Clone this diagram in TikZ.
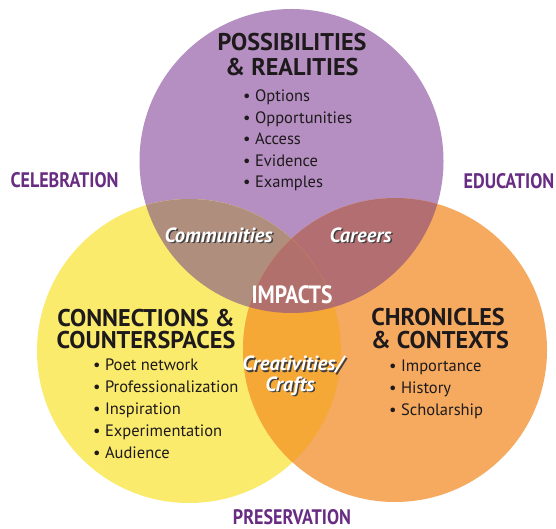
\documentclass[tikz,border=0pt]{standalone}
\usepackage{fontspec}
\setmainfont{PT Sans}
\newfontfamily\condfont[FakeStretch=0.86]{PT Sans}
\definecolor{cP}{HTML}{B58FC1}
\definecolor{cY}{HTML}{FAEB6C}
\definecolor{cO}{HTML}{F5AA60}
\definecolor{cPY}{HTML}{AF8E7D}
\definecolor{cPO}{HTML}{B26E70}
\definecolor{cYO}{HTML}{F6A837}
\definecolor{cPYO}{HTML}{B2706C}
\definecolor{themepurple}{HTML}{682D82}
\definecolor{inktext}{HTML}{1E1A1C}
\newcommand\dropshadowtext[1]{\makebox[0pt][l]{\hspace{1.5pt}\raisebox{-1.5pt}{\textcolor{black!75}{#1}}}#1}
\begin{document}
\begin{tikzpicture}[x=1pt,y=-1pt,
  head/.style={font=\fontsize{24.2}{25}\selectfont\bfseries, text=inktext, inner sep=0, anchor=base},
  item/.style={font=\fontsize{16.5}{18}\selectfont, text=inktext, inner sep=0, anchor=base west},
  theme/.style={font=\condfont\fontsize{21}{22}\selectfont\bfseries, text=themepurple, inner sep=0, anchor=base},
  overlap/.style={font=\fontsize{20.5}{22}\selectfont\bfseries\itshape, text=white, inner sep=0, anchor=base},
  impact/.style={font=\condfont\fontsize{25}{26}\selectfont\bfseries, text=white, inner sep=0, anchor=base}]
\useasboundingbox (0,0) rectangle (556,529);
\fill[white] (0,0) rectangle (556,529);
\coordinate (P) at (291.5,161);
\coordinate (Y) at (189,351);
\coordinate (O) at (395,350);
\def\rr{152}
% base circles
\fill[cP] (P) circle (\rr);
\fill[cY] (Y) circle (\rr);
\fill[cO] (O) circle (\rr);
% pairwise overlaps
\begin{scope}\clip (P) circle (\rr); \fill[cPY] (Y) circle (\rr); \end{scope}
\begin{scope}\clip (P) circle (\rr); \fill[cPO] (O) circle (\rr); \end{scope}
\begin{scope}\clip (Y) circle (\rr); \fill[cYO] (O) circle (\rr); \end{scope}
\begin{scope}\clip (P) circle (\rr); \clip (Y) circle (\rr); \fill[cPYO] (O) circle (\rr); \end{scope}

% theme labels
\node[theme] (celeb) at (64.5,188) {CELEBRATION};
\node[theme] (educ) at (509,189) {EDUCATION};
\node[theme] (pres) at (292,524) {PRESERVATION};

% top circle
\node[head] (ph1) at (292,51) {POSSIBILITIES};
\node[head] (ph2) at (292,76) {\& REALITIES};
\node[item] (p1) at (243,102) {• Options};
\node[item] (p2) at (243,123.5) {• Opportunities};
\node[item] (p3) at (243,145) {• Access};
\node[item] (p4) at (243,166.5) {• Evidence};
\node[item] (p5) at (243,188) {• Examples};

% left circle
\node[head] (yh1) at (146,326) {CONNECTIONS \&};
\node[head] (yh2) at (146,348.5) {COUNTERSPACES};
\node[item] (y1) at (93,370) {• Poet network};
\node[item] (y2) at (93,392) {• Professionalization};
\node[item] (y3) at (93,414) {• Inspiration};
\node[item] (y4) at (93,436) {• Experimentation};
\node[item] (y5) at (93,458) {• Audience};

% right circle
\node[head] (oh1) at (438,325) {CHRONICLES};
\node[head] (oh2) at (440,348.5) {\& CONTEXTS};
\node[item] (o1) at (389,371) {• Importance};
\node[item] (o2) at (389,393) {• History};
\node[item] (o3) at (389,415) {• Scholarship};

% overlaps
\node[overlap] (comm) at (218.5,242) {\dropshadowtext{Communities}};
\node[overlap] (care) at (360.5,242) {\dropshadowtext{Careers}};
\node[overlap] (crea) at (293,370.5) {\dropshadowtext{Creativities/}};
\node[overlap] (craf) at (290,391) {\dropshadowtext{Crafts}};
\node[impact] (imp) at (292,303) {IMPACTS};
\end{tikzpicture}
\end{document}
